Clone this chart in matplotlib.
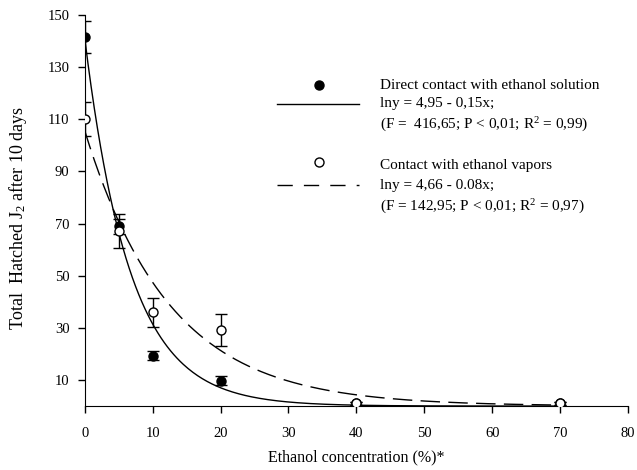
import numpy as np
import matplotlib
matplotlib.use('Agg')
import matplotlib.pyplot as plt
from matplotlib.lines import Line2D

plt.rcParams['font.family'] = 'Liberation Serif'
plt.rcParams['mathtext.fontset'] = 'custom'
plt.rcParams['mathtext.rm'] = 'Liberation Serif'
plt.rcParams['mathtext.it'] = 'Liberation Serif:italic'

# Ethanol concentration (%)
conc = [0, 5, 10, 20, 40, 70]

# Direct contact with ethanol solution
direct_mean = [141.5, 69, 19.3, 9.8, 1, 1]
direct_err = [6.2, 2.8, 1.7, 1.7, 0.5, 0.5]
direct_fit = (4.95, 0.15)   # lny = a - b x

# Contact with ethanol vapors
vapor_mean = [110.2, 67, 36, 29.2, 1, 1]
vapor_err = [6.6, 6.5, 5.5, 6.0, 0.5, 0.5]
vapor_fit = (4.66, 0.08)

fig = plt.figure(figsize=(6.37, 4.70), dpi=100)
ax = fig.add_axes([0.133, 0.136, 0.853, 0.832])

xs = np.linspace(0, 70, 300)
ax.plot(xs, np.exp(direct_fit[0] - direct_fit[1] * xs), color='black', lw=1)
ax.plot(xs, np.exp(vapor_fit[0] - vapor_fit[1] * xs), color='black', lw=1,
        dashes=(14, 6))

ax.errorbar(conc, direct_mean, yerr=direct_err, fmt='o', color='black',
            mfc='black', mec='black', ms=6.5, capsize=4, elinewidth=1, zorder=3)
ax.errorbar(conc, vapor_mean, yerr=vapor_err, fmt='o', color='black',
            mfc='white', mec='black', ms=6.5, capsize=4, elinewidth=1, zorder=4)

ax.set_xlim(0, 80)
ax.set_ylim(0, 150)
ax.set_xticks(range(0, 81, 10))
ax.set_yticks(range(10, 151, 20))
ax.spines['top'].set_visible(False)
ax.spines['right'].set_visible(False)
ax.tick_params(direction='out', length=5, width=1, labelsize=10.5, pad=6)
ax.tick_params(axis='x', pad=10)

ax.set_xlabel('Ethanol concentration (%)*', fontsize=11.5, labelpad=7)
ax.set_ylabel('Total  Hatched J$_2$ after 10 days', fontsize=13)
ax.yaxis.set_label_coords(-0.102, 0.48)

# hand-made legend
fs = 11
fig.add_artist(Line2D([319 / 637], [1 - 85 / 470], marker='o', color='black',
                      ms=6.5, mfc='black', transform=fig.transFigure))
fig.add_artist(Line2D([277 / 637, 359 / 637], [1 - 104 / 470] * 2,
                      color='black', lw=1, transform=fig.transFigure))
fig.text(380 / 637, 1 - 86 / 470, 'Direct contact with ethanol solution',
         fontsize=fs, va='center')
fig.text(380 / 637, 1 - 104 / 470, 'lny = 4,95 - 0,15x;', fontsize=fs, va='center')
fig.text(380 / 637, 1 - 125 / 470,
         '(F =  416,65; P < 0,01; R$^2$ = 0,99)', fontsize=fs, va='center')

fig.add_artist(Line2D([319 / 637], [1 - 162 / 470], marker='o', color='black',
                      ms=6.5, mfc='white', transform=fig.transFigure))
fig.add_artist(Line2D([277 / 637, 359 / 637], [1 - 185 / 470] * 2,
                      color='black', lw=1, dashes=(11, 8),
                      transform=fig.transFigure))
fig.text(380 / 637, 1 - 165 / 470, 'Contact with ethanol vapors',
         fontsize=fs, va='center')
fig.text(380 / 637, 1 - 185 / 470, 'lny = 4,66 - 0.08x;', fontsize=fs, va='center')
fig.text(380 / 637, 1 - 207 / 470,
         '(F = 142,95; P < 0,01; R$^2$ = 0,97)', fontsize=fs, va='center')

fig.savefig('out.png', dpi=100)
